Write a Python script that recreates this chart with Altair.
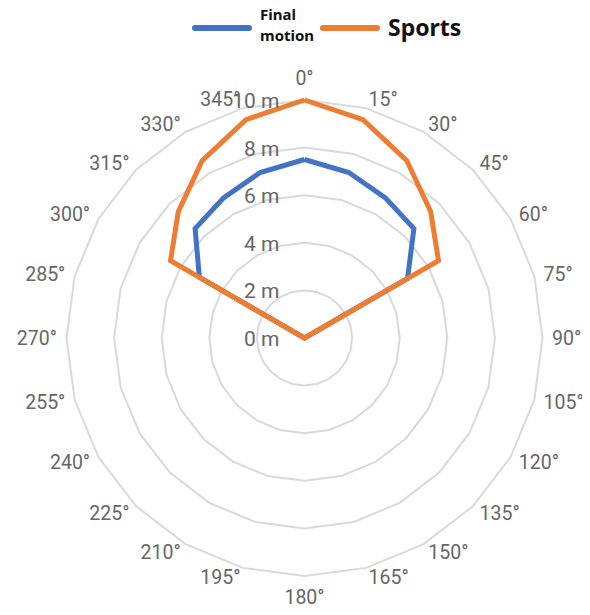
import altair as alt
import pandas as pd

# ---------------- data ----------------
angles = [0, 15, 30, 45, 60, 75, 90, 105, 120, 135, 150, 165,
          180, 195, 210, 225, 240, 255, 270, 285, 300, 315, 330, 345]
final_motion = [7.5, 7.2, 6.8, 6.5, 5.0, 0, 0, 0, 0, 0, 0, 0,
                0, 0, 0, 0, 0, 0, 0, 0, 5.1, 6.5, 6.8, 7.2]
sports = [10.0, 9.5, 8.6, 7.5, 6.5, 0, 0, 0, 0, 0, 0, 0,
          0, 0, 0, 0, 0, 0, 0, 0, 6.5, 7.5, 8.6, 9.5]
ring_values = [2, 4, 6, 8, 10]
radial_ticks = [0, 2, 4, 6, 8, 10]
angle_labels = [f"{a}°" for a in angles]
series_names = ["Final motion", "Sports"]
series_colors = ["#4472C4", "#ED7D31"]

# ---------------- tables ----------------
def closed_rows(name, vals):
    rows = []
    for i, (a, v) in enumerate(zip(angles + [angles[0]], vals + [vals[0]])):
        rows.append({"series": name, "angle": a, "r": v, "order": i})
    return pd.DataFrame(rows)

fm_df = closed_rows("Final motion", final_motion)
sp_df = closed_rows("Sports", sports)

grid_rows = []
for rv in ring_values:
    for i, a in enumerate(angles + [angles[0]]):
        grid_rows.append({"ring": rv, "angle": a, "r": rv, "order": i})
grid_df = pd.DataFrame(grid_rows)

lab_df = pd.DataFrame({"angle": angles, "label": angle_labels})
tick_df = pd.DataFrame({"v": radial_ticks})

# ---------------- geometry ----------------
PX = 23.8          # pixels per metre
W, H = 574, 599
CX, CY = 296.5, 330.0
xdom = [-CX / PX, (W - CX) / PX]
ydom = [-(H - CY) / PX, CY / PX]

X = alt.X("x:Q", scale=alt.Scale(domain=xdom, zero=False, nice=False), axis=None)
Y = alt.Y("y:Q", scale=alt.Scale(domain=ydom, zero=False, nice=False), axis=None)

def polar(ch, rfield="datum.r"):
    return ch.transform_calculate(
        x=f"{rfield} * sin(datum.angle * PI / 180)",
        y=f"{rfield} * cos(datum.angle * PI / 180)",
    )

grid = polar(alt.Chart(grid_df).mark_line(color="#d9d9d9", strokeWidth=2)).encode(
    x=X, y=Y, detail="ring:N", order="order:Q"
)

def series_line(df, color):
    return polar(alt.Chart(df).mark_line(color=color, strokeWidth=5,
                                         strokeJoin="miter")).encode(
        x=X, y=Y, order="order:Q"
    )

blue_line = series_line(fm_df, series_colors[0])
orange_line = series_line(sp_df, series_colors[1])

FONT = "Roboto"
LCOL = "#666666"
ASIZE = 19.5
TSIZE = 21

def angle_text(filt, align, baseline, dy=0):
    base = alt.Chart(lab_df).transform_filter(filt).transform_calculate(lr="10.4")
    base = base.transform_calculate(
        x="datum.lr * sin(datum.angle * PI / 180)",
        y="datum.lr * cos(datum.angle * PI / 180)",
    )
    return base.mark_text(font=FONT, fontSize=ASIZE, color=LCOL,
                          align=align, baseline=baseline, dy=dy).encode(
        x=X, y=Y, text="label:N"
    )

lab_right = angle_text("datum.angle > 0 && datum.angle < 180", "left", "middle", 1)
lab_left = angle_text("datum.angle > 180", "right", "middle", 1)
lab_top = angle_text("datum.angle == 0", "center", "bottom", -1)
lab_bottom = angle_text("datum.angle == 180", "center", "top", 3)

ticks = alt.Chart(tick_df).transform_calculate(
    x="0", y="datum.v", txt="datum.v + ' m'"
).mark_text(font=FONT, fontSize=TSIZE, color=LCOL, align="right",
            baseline="middle", dx=-25, dy=2).encode(x=X, y=Y, text="txt:N")

# ---------------- legend ----------------
leg_df = pd.DataFrame({"series": series_names})

def leg_line(name, color, x1, x2):
    return alt.Chart(leg_df).transform_filter(
        f"datum.series == '{name}'"
    ).mark_rule(color=color, strokeWidth=6, strokeCap="round").encode(
        x=alt.value(x1), x2=alt.value(x2), y=alt.value(20)
    )

leg_blue = leg_line("Final motion", series_colors[0], 187, 241)
leg_orange = leg_line("Sports", series_colors[1], 315, 369)

leg_final = alt.Chart(leg_df).transform_filter(
    "datum.series == 'Final motion'"
).transform_calculate(t1="'Final'", t2="'motion'")
leg_t1 = leg_final.mark_text(font="Noto Sans", fontWeight="bold", fontSize=15,
                             color="#111111", align="left",
                             baseline="alphabetic").encode(
    x=alt.value(252), y=alt.value(12), text="t1:N")
leg_t2 = leg_final.mark_text(font="Noto Sans", fontWeight="bold", fontSize=15,
                             color="#111111", align="left",
                             baseline="alphabetic").encode(
    x=alt.value(252), y=alt.value(33), text="t2:N")
leg_sports = alt.Chart(leg_df).transform_filter(
    "datum.series == 'Sports'"
).mark_text(font="Noto Sans", fontWeight="bold", fontSize=23, color="#111111",
            align="left", baseline="alphabetic").encode(
    x=alt.value(380), y=alt.value(28), text="series:N")

chart = alt.layer(
    grid, blue_line, orange_line, lab_right, lab_left, lab_top, lab_bottom,
    ticks, leg_blue, leg_orange, leg_t1, leg_t2, leg_sports
).properties(
    width=W, height=H, padding=0, autosize="none"
).configure_view(stroke=None)

chart.save("out.html", embed_options={"renderer": "svg", "actions": False})
